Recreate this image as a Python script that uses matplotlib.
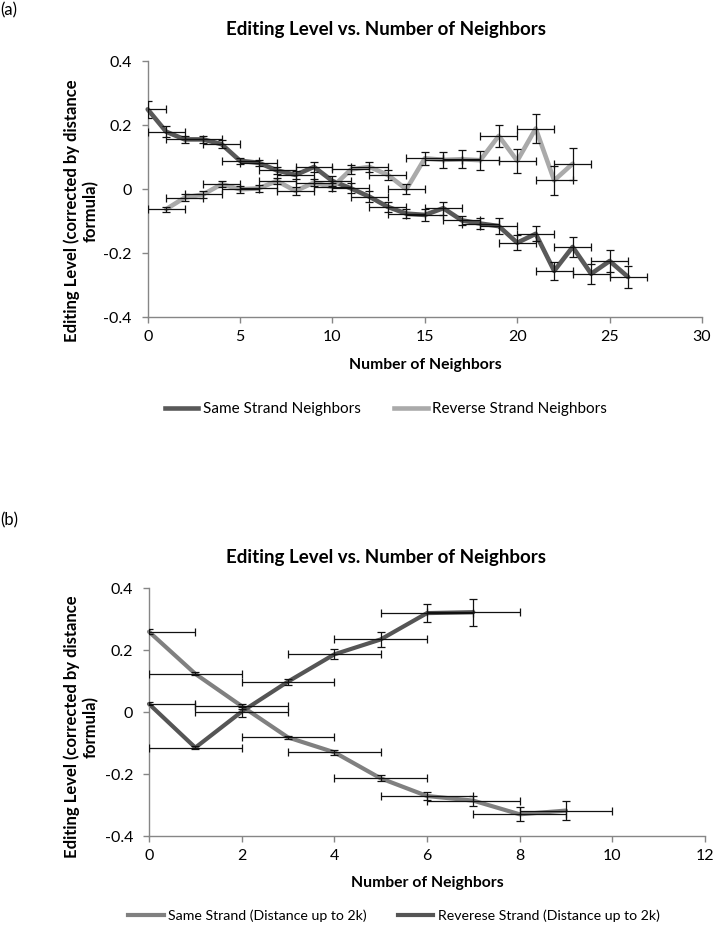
import matplotlib
matplotlib.use("Agg")
import matplotlib.pyplot as plt
from matplotlib.lines import Line2D

plt.rcParams['font.family'] = ['Lato', 'DejaVu Sans']

# ---------------- data ----------------
title = "Editing Level vs. Number of Neighbors"
xlabel = "Number of Neighbors"
ylabel = "Editing Level (corrected by distance\nformula)"

# (a)
a_same_x = list(range(0, 27))
a_same_y = [0.249, 0.179, 0.155, 0.155, 0.140, 0.088, 0.082, 0.058, 0.044, 0.069,
            0.025, 0.002, -0.024, -0.056, -0.077, -0.081, -0.060, -0.098, -0.108,
            -0.116, -0.168, -0.140, -0.256, -0.181, -0.265, -0.225, -0.275]
a_same_err = [0.027, 0.017, 0.012, 0.012, 0.012, 0.010, 0.010, 0.012, 0.013, 0.015,
              0.015, 0.016, 0.018, 0.015, 0.015, 0.018, 0.020, 0.015, 0.016, 0.025,
              0.024, 0.023, 0.028, 0.032, 0.032, 0.035, 0.035]
a_rev_x = list(range(1, 24))
a_rev_y = [-0.063, -0.027, -0.017, 0.015, -0.001, 0.002, 0.025, -0.006, 0.020, 0.006,
           0.061, 0.069, 0.044, -0.001, 0.096, 0.091, 0.093, 0.090, 0.166, 0.088,
           0.189, 0.027, 0.079]
a_rev_err = [0.008, 0.010, 0.010, 0.010, 0.010, 0.010, 0.010, 0.012, 0.012, 0.012,
             0.015, 0.015, 0.015, 0.016, 0.020, 0.025, 0.028, 0.030, 0.035, 0.038,
             0.046, 0.046, 0.050]
a_labels = ["Same Strand Neighbors", "Reverse Strand Neighbors"]
a_xticks = [0, 5, 10, 15, 20, 25, 30]

# (b)
b_same_x = list(range(0, 10))
b_same_y = [0.260, 0.124, 0.020, -0.081, -0.129, -0.213, -0.270, -0.285, -0.329, -0.317]
b_same_err = [0.008, 0.005, 0.008, 0.006, 0.008, 0.010, 0.012, 0.016, 0.022, 0.030]
b_rev_x = list(range(0, 8))
b_rev_y = [0.027, -0.114, 0.002, 0.099, 0.187, 0.235, 0.320, 0.323]
b_rev_err = [0.005, 0.005, 0.016, 0.010, 0.016, 0.023, 0.030, 0.044]
b_labels = ["Same Strand (Distance up to 2k)", "Reverese Strand (Distance up to 2k)"]
b_xticks = [0, 2, 4, 6, 8, 10, 12]

x_err = 1.0
yticks = [-0.4, -0.2, 0, 0.2, 0.4]
ytick_labels = ["-0.4", "-0.2", "0", "0.2", "0.4"]

# ---------------- figure ----------------
W, H = 715, 938
fig = plt.figure(figsize=(W / 100, H / 100), dpi=100)

AX_COL = "#868686"
ERR_COL = "#111111"


def px_axes(l, t, r, b):
    return fig.add_axes([l / W, 1 - b / H, (r - l) / W, (b - t) / H])


def style(ax, xticks):
    for s in ("top", "right"):
        ax.spines[s].set_visible(False)
    for s in ("left", "bottom"):
        ax.spines[s].set_color(AX_COL)
        ax.spines[s].set_linewidth(1.0)
    ax.set_xticks(xticks)
    ax.set_xticklabels([str(v) for v in xticks])
    ax.set_yticks(yticks)
    ax.set_yticklabels(ytick_labels)
    ax.set_ylim(-0.4, 0.4)
    ax.set_xlim(xticks[0], xticks[-1])
    ax.tick_params(axis="both", direction="out", length=4.5, width=1.0,
                   color=AX_COL, labelsize=11.5, labelcolor="black")
    ax.tick_params(axis="x", pad=5)
    ax.tick_params(axis="y", pad=7)


def series(ax, x, y, err, color, lw):
    ax.plot(x, y, color=color, lw=lw, solid_joinstyle="round",
            solid_capstyle="round", zorder=2, clip_on=False)
    ax.errorbar(x, y, yerr=err, xerr=x_err, fmt="none", ecolor=ERR_COL,
                elinewidth=0.9, capsize=3.2, capthick=0.9, zorder=3)


# ---- (a) ----
fig.text(0 / W, 1 - 10 / H, "(a)", fontsize=12, va="center", ha="left")
axa = px_axes(147.7, 61, 702, 317)
style(axa, a_xticks)
series(axa, a_same_x, a_same_y, a_same_err, "#595959", 3.3)
series(axa, a_rev_x, a_rev_y, a_rev_err, "#aaaaaa", 3.3)
fig.text(386 / W, 1 - 29 / H, title, fontsize=13.5, fontweight="bold",
         ha="center", va="center")
fig.text(425 / W, 1 - 365 / H, xlabel, fontsize=11.3, fontweight="bold",
         ha="center", va="center")
fig.text(81 / W, 1 - 211 / H, ylabel, fontsize=12, fontweight="bold",
         ha="center", va="center", rotation=90, linespacing=1.15)
ha = [Line2D([], [], color="#595959", lw=3.3), Line2D([], [], color="#aaaaaa", lw=3.3)]
fig.legend(ha, a_labels, loc="center", bbox_to_anchor=(386 / W, 1 - 409 / H),
           ncol=2, frameon=False, fontsize=11, handlelength=2.2,
           handletextpad=0.3, columnspacing=2.2)

# ---- (b) ----
fig.text(0 / W, 1 - 520 / H, "(b)", fontsize=12, va="center", ha="left")
axb = px_axes(149, 588.3, 705, 836.3)
style(axb, b_xticks)
series(axb, b_same_x, b_same_y, b_same_err, "#808080", 3.0)
series(axb, b_rev_x, b_rev_y, b_rev_err, "#555555", 3.0)
fig.text(386 / W, 1 - 557 / H, title, fontsize=13.5, fontweight="bold",
         ha="center", va="center")
fig.text(427 / W, 1 - 883 / H, xlabel, fontsize=11.3, fontweight="bold",
         ha="center", va="center")
fig.text(81 / W, 1 - 727 / H, ylabel, fontsize=12, fontweight="bold",
         ha="center", va="center", rotation=90, linespacing=1.15)
hb = [Line2D([], [], color="#808080", lw=3.0), Line2D([], [], color="#555555", lw=3.0)]
fig.legend(hb, b_labels, loc="center", bbox_to_anchor=(394 / W, 1 - 916 / H),
           ncol=2, frameon=False, fontsize=10.2, handlelength=2.5,
           handletextpad=0.3, columnspacing=2.2)

fig.savefig("out.png", dpi=100)
